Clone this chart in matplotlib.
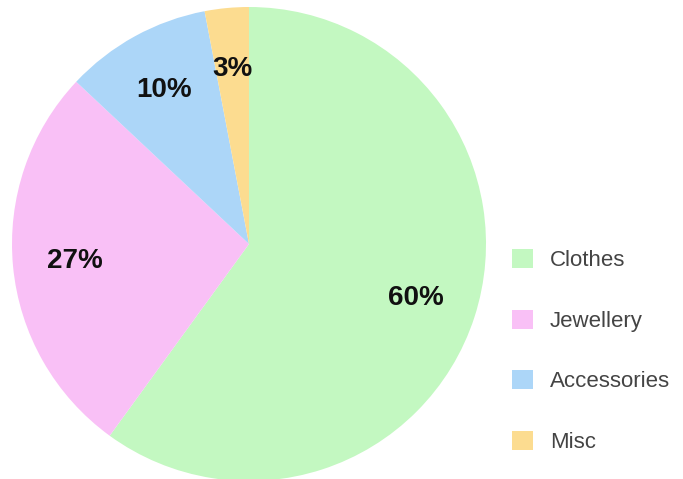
import matplotlib.pyplot as plt
from matplotlib.patches import Patch

labels = ["Clothes", "Jewellery", "Accessories", "Misc"]
values = [60, 27, 10, 3]
colors = ["#c3f8c1", "#f9c0f6", "#acd6f8", "#fcdc90"]

plt.rcParams["font.family"] = ["Liberation Sans", "DejaVu Sans"]

fig = plt.figure(figsize=(6.83, 4.79), dpi=100)
ax = fig.add_axes([12/683, -2/479, 474/683, 474/479])

wedges, texts, autotexts = ax.pie(
    values, colors=colors, startangle=90, counterclock=False,
    autopct="%d%%", pctdistance=0.74, radius=1,
    textprops=dict(fontsize=20, fontweight="bold", color="#111111"),
)
ax.set_aspect("equal")
ax.set_xlim(-1, 1)
ax.set_ylim(-1, 1)

handles = [Patch(facecolor=c, edgecolor="none") for c in colors]
fig.legend(handles, labels, loc="center left",
           bbox_to_anchor=(503/683, 1 - 351/479), frameon=False,
           borderaxespad=0, fontsize=16, labelcolor="#444444",
           handlelength=0.95, handleheight=0.95, handletextpad=0.75,
           labelspacing=1.72)

fig.savefig("out.png", dpi=100)
